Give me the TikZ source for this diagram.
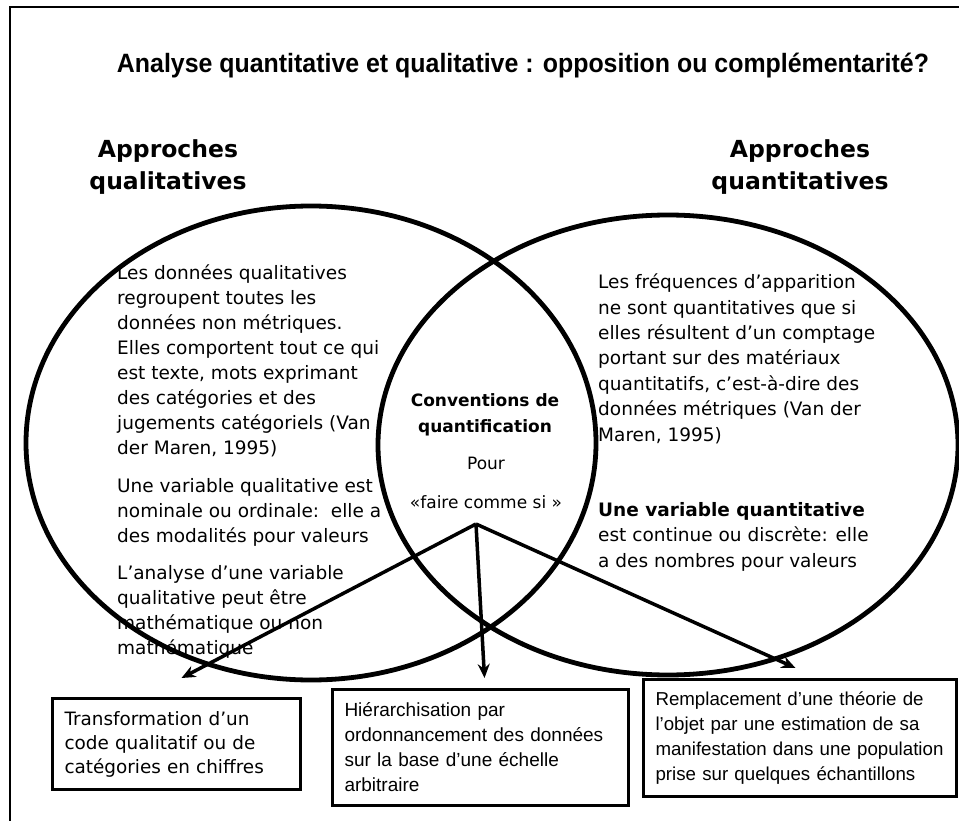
\documentclass[tikz,border=0pt]{standalone}
\usepackage{fontspec}
\newfontfamily\verdfont{DejaVu Sans}
\newfontfamily\arialfont{Liberation Sans}
\usetikzlibrary{arrows.meta}

\begin{document}
\begin{tikzpicture}[x=1pt,y=-1pt,
    txt/.style={inner sep=0pt,align=left,anchor=base west,
      font=\verdfont\fontsize{18.5}{25}\selectfont},
    rtxt/.style={txt,font=\verdfont\fontsize{18.5}{25.4}\selectfont},
    ctxt/.style={inner sep=0pt,align=center,anchor=base,
      font=\verdfont\fontsize{17}{26}\selectfont},
    head/.style={inner sep=0pt,align=center,
      font=\verdfont\bfseries\fontsize{23.5}{32}\selectfont},
    box/.style={draw,line width=3pt,inner xsep=12pt,align=left,anchor=north west},
    arr/.style={-{Stealth[length=14pt,width=12pt]},line width=3.5pt},
    venn/.style={line width=4.8pt}]
    \useasboundingbox (0,0) rectangle (959,821);
    % cadre
    \draw[line width=2pt] (10,830) -- (10,7) -- (975,7);

    \node[font=\arialfont\bfseries\fontsize{26.5}{30}\selectfont] (titre) at (523,66)
      {\scalebox{0.94}[1]{Analyse quantitative et qualitative : opposition ou complémentarité?}};

    \node[head] (hqual) at (168,167) {Approches\\qualitatives};
    \node[head] (hquant) at (800,167) {Approches\\quantitatives};

    % les deux ellipses
    \draw[venn] (311,443) ellipse [x radius=285,y radius=237];
    \draw[venn] (668,445) ellipse [x radius=290,y radius=230];

    % cote qualitatif (ancre = ligne de base de la derniere ligne)
    \node[txt] (pqual) at (117,454) {Les données qualitatives\\regroupent toutes les\\données non métriques.\\Elles comportent tout ce qui\\est texte, mots exprimant\\des catégories et des\\jugements catégoriels (Van\\der Maren, 1995)};
    \node[txt] (vqual) at (117,542) {Une variable qualitative est\\nominale ou ordinale:\ \ elle a\\des modalités pour valeurs};
    \node[txt] (aqual) at (117,654) {L’analyse d’une variable\\qualitative peut être\\mathématique ou non\\mathématique};

    % cote quantitatif
    \node[rtxt] (pquant) at (598,441) {Les fréquences d’apparition\\ne sont quantitatives que si\\elles résultent d’un comptage\\portant sur des matériaux\\quantitatifs, c’est-à-dire des\\données métriques (Van der\\Maren, 1995)};
    \node[rtxt] (vquant) at (598,567) {\textbf{Une variable quantitative}\\est continue ou discrète: elle\\a des nombres pour valeurs};

    % intersection
    \node[ctxt,font=\verdfont\bfseries\fontsize{17}{26}\selectfont] (conv) at (485,432) {Conventions de\\quantification};
    \node[ctxt] (pour) at (486,469) {Pour};
    \node[ctxt] (faire) at (486,508) {«faire comme si »};
    \coordinate (src) at (476,524);

    % les trois encadres
    \node[box,text width=224pt,minimum height=91pt,
      font=\verdfont\fontsize{18.4}{24}\selectfont] (bchif) at (51,697)
      {Transformation d’un\\code qualitatif ou de\\catégories en chiffres};
    \node[box,text width=272pt,minimum height=116pt,
      font=\arialfont\fontsize{19}{25}\selectfont] (bhier) at (331,688)
      {Hiérarchisation par\\ordonnancement des données\\sur la base d’une échelle\\arbitraire};
    \node[box,text width=289pt,minimum height=117pt,
      font=\arialfont\fontsize{18.7}{25}\selectfont] (brempl) at (642,678)
      {Remplacement d’une théorie de\\l’objet par une estimation de sa\\manifestation dans une population\\prise sur quelques échantillons};

    \coordinate (tchif) at ([xshift=5pt,yshift=19pt]bchif.north);
    \coordinate (thier) at ([xshift=4pt,yshift=10pt]bhier.north);
    \coordinate (trempl) at ([xshift=-4.5pt,yshift=10pt]brempl.north);
    \draw[arr] (src) -- (tchif);
    \draw[arr] (src) -- (thier);
    \draw[arr] (src) -- (trempl);
\end{tikzpicture}
\end{document}
